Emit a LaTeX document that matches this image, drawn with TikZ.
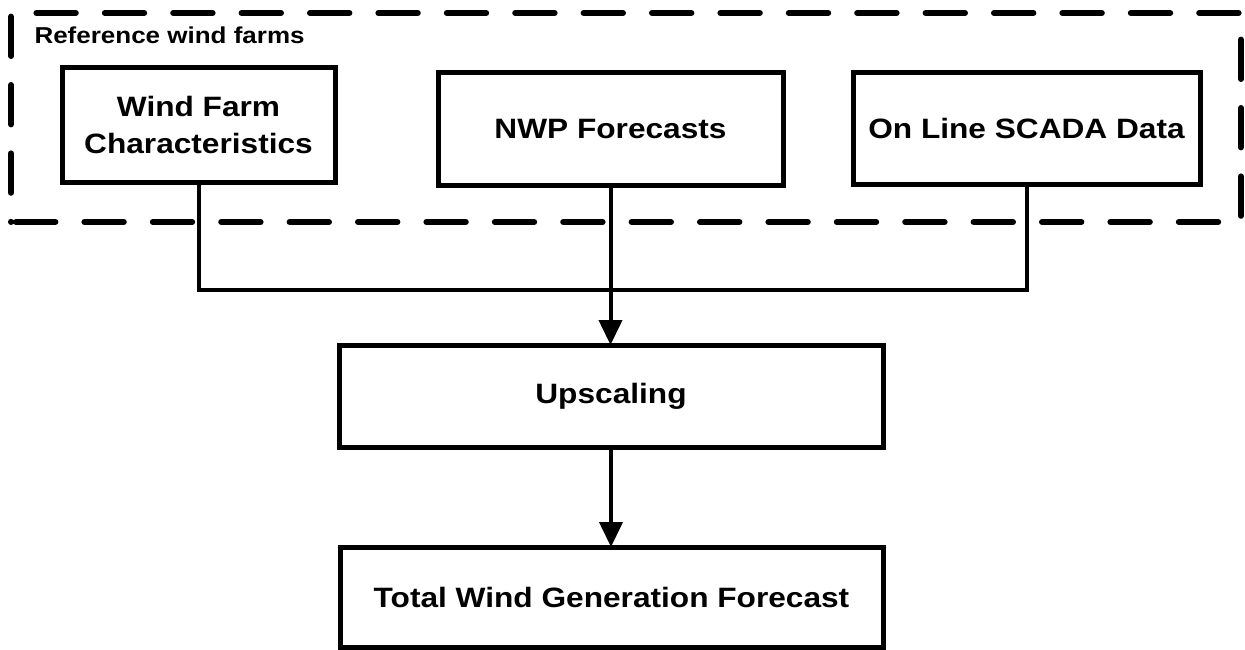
\documentclass[tikz,border=0pt]{standalone}
\usepackage{fontspec}
\setmainfont{Liberation Sans}[FakeStretch=1.13]
\usetikzlibrary{arrows.meta}
\tikzset{
  box/.style={draw, line width=5pt, rectangle, inner sep=0pt, outer sep=0pt,
    align=center, font=\fontsize{28}{37}\selectfont\bfseries},
  conn/.style={line width=4pt},
  arr/.style={conn, -{Triangle[length=25pt,width=23pt]}},
  group/.style={draw, line width=6pt, line cap=round, dash pattern=on 39.4pt off 29pt,
    dash phase=63.4pt, rectangle, inner sep=0pt, outer sep=0pt}
}
\begin{document}
\begin{tikzpicture}[x=1pt,y=-1pt]
\useasboundingbox (0,0) rectangle (1245,650);
\node[group, minimum width=1230pt, minimum height=209pt] (grp) at (626,117.5) {};
\node[anchor=base west, font=\fontsize{23}{27}\selectfont\bfseries] (lbl) at (31,44) {Reference wind farms};
\node[box, minimum width=273pt, minimum height=114pt] (b1) at (198.5,125) {Wind Farm\\Characteristics};
\node[box, minimum width=345pt, minimum height=112pt] (b2) at (610.5,129) {NWP Forecasts};
\node[box, minimum width=347pt, minimum height=111pt] (b3) at (1026.5,128.5) {On Line SCADA Data};
\node[box, minimum width=544pt, minimum height=102pt] (up) at (611,396) {Upscaling};
\node[box, minimum width=543pt, minimum height=100pt] (tot) at (611.5,597) {Total Wind Generation Forecast};
\coordinate (j) at (611,290);
\draw[conn] (b1.south) |- (j) -| (b3.south);
\draw[arr] (b2.south) -- (b2.south |- up.north);
\draw[arr] (up.south) -- (up.south |- tot.north);
\end{tikzpicture}
\end{document}
